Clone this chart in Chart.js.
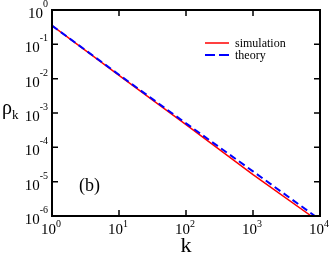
<!DOCTYPE html>
<html><head><meta charset="utf-8">
<script src="https://cdn.jsdelivr.net/npm/chart.js@4"></script>
<style>html,body{margin:0;padding:0;background:#fff}#wrap{width:332px;height:256px;position:relative}</style>
</head><body><div id="wrap"><canvas id="c" width="332" height="256"></canvas></div>
<script>
const simK = [1, 10, 100, 1000, 7400];
const simRho = [0.35, 0.0125, 4.6e-4, 1.6e-5, 1e-6];
const theoryK = [1, 10, 100, 1000, 8400];
const theoryRho = [0.35, 0.013, 5.0e-4, 2.0e-5, 1e-6];
const xTickExps = [0, 1, 2, 3, 4];
const yTickExps = [0, -1, -2, -3, -4, -5, -6];
const seriesLabels = ['simulation', 'theory'];
const panelLabel = '(b)';
const xTitle = 'k';
const yTitle = 'ρ';
const yTitleSub = 'k';

const SERIF = '"Liberation Serif", "DejaVu Serif", serif';

const decorPlugin = {
  id: 'decor',
  afterDraw(chart) {
    const ctx = chart.ctx;
    const a = chart.chartArea;
    const xs = chart.scales.x, ys = chart.scales.y;
    ctx.save();
    ctx.strokeStyle = '#000';
    ctx.fillStyle = '#000';
    // frame
    ctx.lineWidth = 2;
    ctx.strokeRect(a.left, a.top, a.right - a.left, a.bottom - a.top);
    // ticks
    ctx.lineWidth = 1.5;
    const tl = 6;
    xTickExps.forEach(e => {
      const px = xs.getPixelForValue(Math.pow(10, e));
      ctx.beginPath();
      ctx.moveTo(px, a.bottom); ctx.lineTo(px, a.bottom - tl);
      ctx.moveTo(px, a.top); ctx.lineTo(px, a.top + tl);
      ctx.stroke();
    });
    yTickExps.forEach(e => {
      const py = ys.getPixelForValue(Math.pow(10, e));
      ctx.beginPath();
      ctx.moveTo(a.left, py); ctx.lineTo(a.left + tl, py);
      ctx.moveTo(a.right, py); ctx.lineTo(a.right - tl, py);
      ctx.stroke();
    });
    // tick labels
    const baseFont = '15px ' + SERIF, supFont = '10px ' + SERIF;
    function measure(e) {
      ctx.font = baseFont; const w1 = ctx.measureText('10').width;
      ctx.font = supFont; const w2 = ctx.measureText(String(e)).width;
      return [w1, w2];
    }
    ctx.textAlign = 'left';
    ctx.textBaseline = 'alphabetic';
    xTickExps.forEach(e => {
      const px = xs.getPixelForValue(Math.pow(10, e));
      const [w1, w2] = measure(e);
      const x0 = px - (w1 + w2) / 2 - 1;
      ctx.font = baseFont; ctx.fillText('10', x0, 234);
      ctx.font = supFont; ctx.fillText(String(e), x0 + w1, 227);
    });
    yTickExps.forEach(e => {
      const py = ys.getPixelForValue(Math.pow(10, e));
      const [w1, w2] = measure(e);
      const xr = a.left - 4;
      ctx.font = baseFont; ctx.fillText('10', xr - w2 - w1, py + 8);
      ctx.font = supFont; ctx.fillText(String(e), xr - w2, py - 3);
    });
    // axis titles
    ctx.font = '22px ' + SERIF;
    ctx.textAlign = 'center';
    ctx.fillText(xTitle, (a.left + a.right) / 2, 252);
    ctx.textAlign = 'left';
    ctx.font = '20px ' + SERIF;
    ctx.fillText(yTitle, 2, 114);
    ctx.font = '13px ' + SERIF;
    ctx.fillText(yTitleSub, 12, 119);
    // panel label
    ctx.font = '18px ' + SERIF;
    ctx.fillText(panelLabel, 79, 191);
    // legend
    const ds = chart.data.datasets;
    const ly = [43, 55];
    ds.forEach((d, i) => {
      ctx.strokeStyle = d.borderColor;
      ctx.lineWidth = d.borderWidth;
      ctx.setLineDash(d.borderDash && d.borderDash.length ? [10, 4] : []);
      ctx.beginPath();
      ctx.moveTo(205, ly[i]); ctx.lineTo(229, ly[i]);
      ctx.stroke();
      ctx.setLineDash([]);
      ctx.fillStyle = '#000';
      ctx.font = '12px ' + SERIF;
      ctx.fillText(d.label, 235, ly[i] + 4);
    });
    ctx.restore();
  }
};

new Chart(document.getElementById('c'), {
  type: 'line',
  data: {
    datasets: [
      {
        label: seriesLabels[0],
        data: simK.map((k, i) => ({ x: k, y: simRho[i] })),
        borderColor: '#ff0000', borderWidth: 1.5, pointRadius: 0, fill: false,
        tension: 0, order: 1
      },
      {
        label: seriesLabels[1],
        data: theoryK.map((k, i) => ({ x: k, y: theoryRho[i] })),
        borderColor: '#0000ff', borderWidth: 2, borderDash: [7, 4], pointRadius: 0, fill: false,
        tension: 0, order: 0
      }
    ]
  },
  options: {
    responsive: false,
    animation: false,
    devicePixelRatio: 1,
    layout: { padding: { left: 52, top: 10, right: 12, bottom: 40 } },
    plugins: { legend: { display: false }, title: { display: false }, tooltip: { enabled: false } },
    scales: {
      x: { type: 'logarithmic', min: 1, max: 1e4, display: false },
      y: { type: 'logarithmic', min: 1e-6, max: 1, display: false }
    }
  },
  plugins: [decorPlugin]
});
</script>
</body></html>
